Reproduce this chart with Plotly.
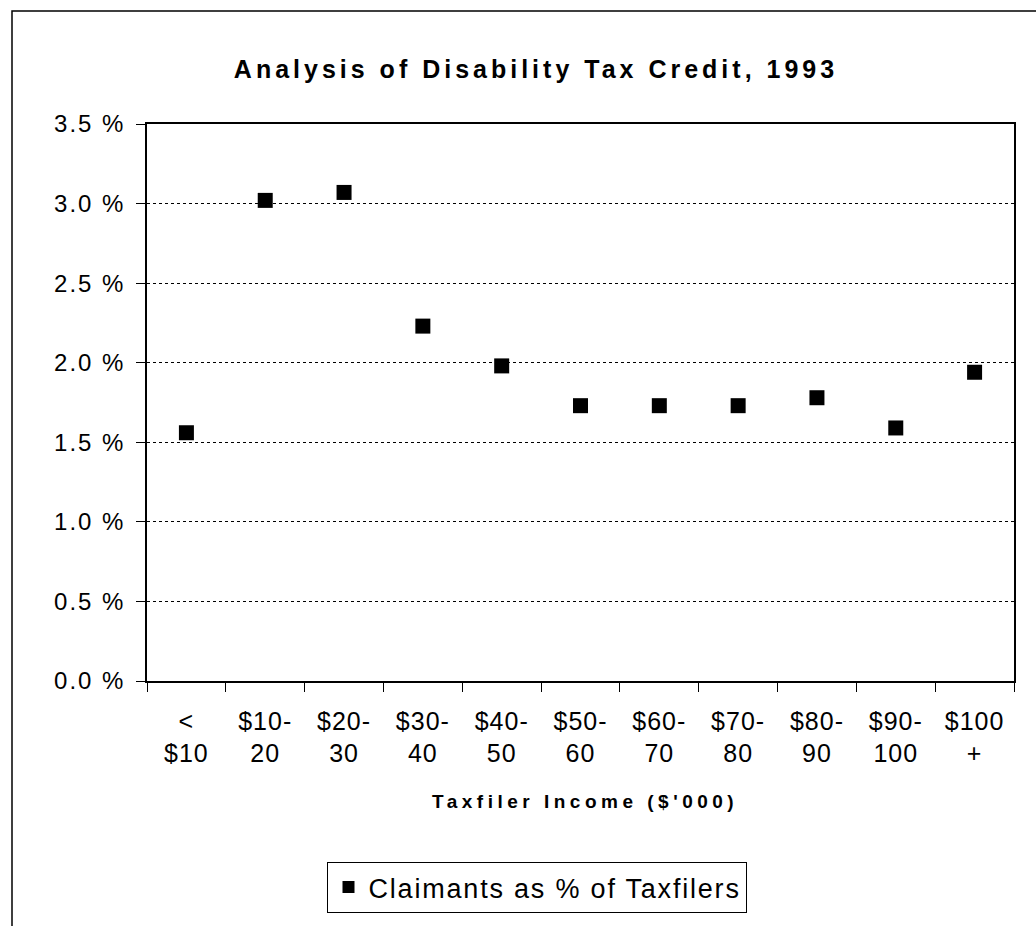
import plotly.graph_objects as go

# Income brackets (thousands of dollars) and claimant share of taxfilers (%)
brackets = ["< $10", "$10-20", "$20-30", "$30-40", "$40-50", "$50-60",
            "$60-70", "$70-80", "$80-90", "$90-100", "$100 +"]
bracket_labels = [("<", "$10"), ("$10-", "20"), ("$20-", "30"), ("$30-", "40"),
                  ("$40-", "50"), ("$50-", "60"), ("$60-", "70"), ("$70-", "80"),
                  ("$80-", "90"), ("$90-", "100"), ("$100", "+")]
claimant_pct = [1.56, 3.02, 3.07, 2.23, 1.98, 1.73, 1.73, 1.73, 1.78, 1.59, 1.94]

y_ticks = [0.0, 0.5, 1.0, 1.5, 2.0, 2.5, 3.0, 3.5]
y_tick_text = ["0.0 %", "0.5 %", "1.0 %", "1.5 %", "2.0 %", "2.5 %", "3.0 %", "3.5 %"]

FONT = "Liberation Sans, Arial, sans-serif"


def spaced(text, px):
    """Wrap text in a span with extra letter spacing."""
    return f'<span style="letter-spacing:{px}px">{text}</span>'


x_tick_text = [spaced(a, 1) + "<br>" + spaced(b, 1) for a, b in bracket_labels]

fig = go.Figure()
fig.add_trace(go.Scatter(
    x=brackets, y=claimant_pct, mode="markers",
    name=spaced("Claimants as % of Taxfilers", 1.8),
    marker=dict(symbol="square", size=15, color="black"),
))

fig.update_layout(
    width=1036, height=926,
    margin=dict(l=147, r=22, t=124, b=245),
    paper_bgcolor="white", plot_bgcolor="white",
    font=dict(family=FONT, color="black", size=24),
    title=dict(text=spaced("<b>Analysis of Disability Tax Credit, 1993</b>", 4),
               x=536 / 1036, xref="container", xanchor="center",
               y=1 - 69 / 926, yref="container",
               yanchor="middle", font=dict(size=25, family=FONT)),
    showlegend=True,
    legend=dict(x=0.4504, xanchor="center", y=-0.325, yanchor="top",
                bordercolor="black", borderwidth=1, bgcolor="white",
                font=dict(size=27, family=FONT), itemsizing="constant"),
    xaxis=dict(
        type="category", categoryorder="array", categoryarray=brackets,
        range=[-0.5, len(brackets) - 0.5],
        tickmode="array", tickvals=brackets, ticktext=x_tick_text,
        tickson="boundaries", ticks="outside", ticklen=9, tickcolor="black",
        showline=True, linecolor="black", linewidth=1.5, mirror=True,
        showgrid=False, tickangle=0, ticklabelstandoff=17,
        tickfont=dict(size=25),
    ),
    yaxis=dict(
        range=[0, 3.5], tickmode="array", tickvals=y_ticks,
        ticktext=[spaced(t, 2) for t in y_tick_text],
        ticks="outside", ticklen=9, tickcolor="black", ticklabelstandoff=6,
        showline=True, linecolor="black", linewidth=1.5, mirror=True,
        showgrid=True, gridcolor="black", gridwidth=1, griddash="dot",
        zeroline=False, tickfont=dict(size=24),
    ),
    annotations=[dict(
        text=spaced("<b>Taxfiler Income ($'000)</b>", 4.5), xref="paper", yref="paper",
        x=(585 - 147) / 867, y=(681 - 801) / 557, xanchor="center", yanchor="middle",
        showarrow=False, font=dict(size=19, family=FONT),
    )],
    shapes=[dict(
        type="rect", xref="paper", yref="paper",
        x0=(12 - 147) / 867, x1=1.2, y0=-0.6, y1=(681 - 11) / 557,
        line=dict(color="black", width=1.5), layer="below",
    )],
)

fig.write_html("out.html")
